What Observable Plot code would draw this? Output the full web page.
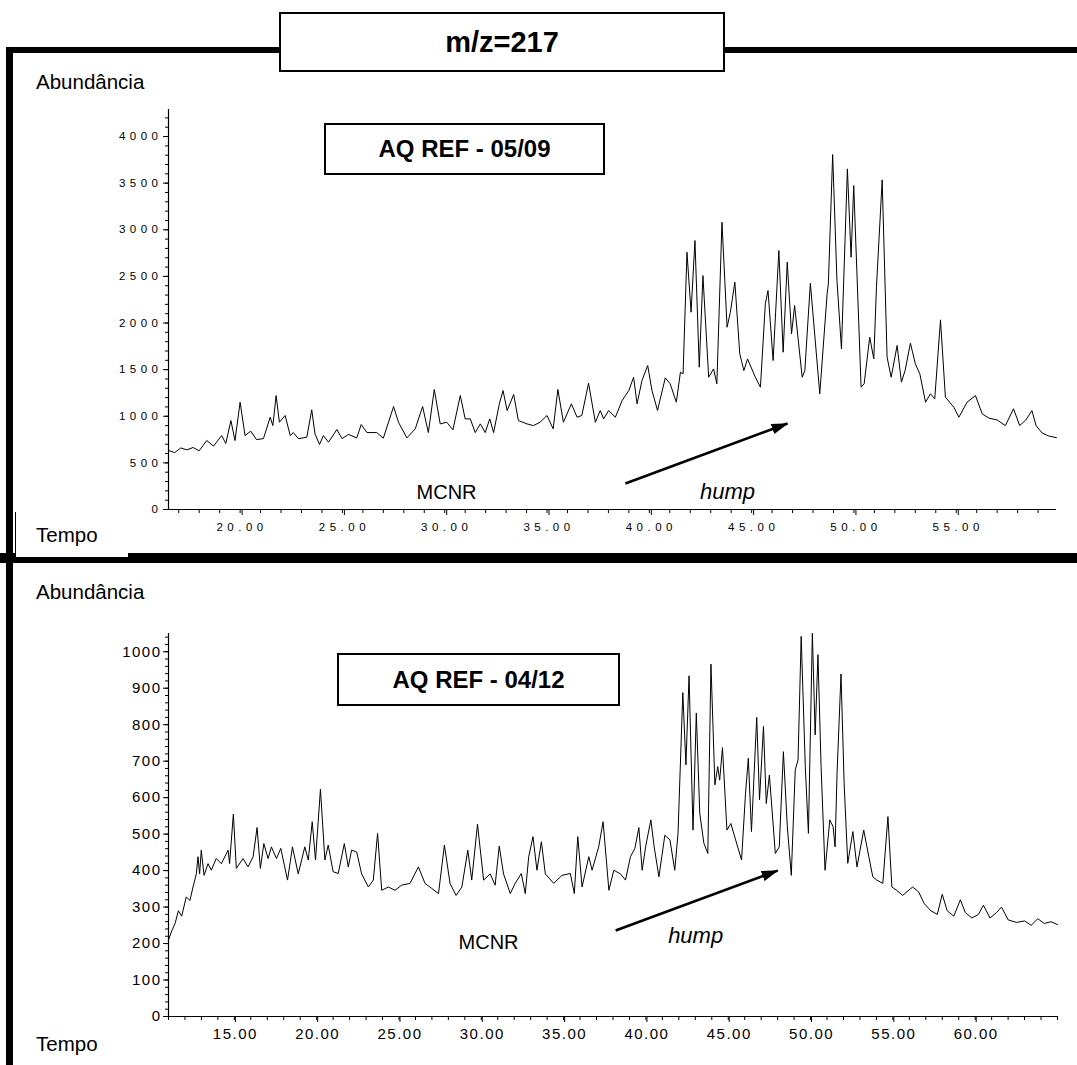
<!DOCTYPE html>
<html><head><meta charset="utf-8">
<script src="https://cdn.jsdelivr.net/npm/d3@7"></script>
<script src="https://cdn.jsdelivr.net/npm/@observablehq/plot@0.6"></script>
<style>
body{margin:0;background:#fff;font-family:Arial,"Liberation Sans",sans-serif;}
#page{position:relative;width:1077px;height:1065px;overflow:hidden;background:#fff;}
.blk{position:absolute;background:#000;}
.lbl{position:absolute;font-size:20.5px;color:#000;line-height:1;white-space:nowrap;}
.box{position:absolute;border:2px solid #000;background:#fff;font-weight:bold;display:flex;align-items:center;justify-content:center;box-sizing:border-box;color:#000;}
.plotwrap{position:absolute;left:0;}
#topChart g[aria-label="y-axis tick label"] text, #topChart g[aria-label="x-axis tick label"] text{letter-spacing:4.5px;}
#botChart g[aria-label="y-axis tick label"] text, #botChart g[aria-label="x-axis tick label"] text{letter-spacing:1.5px;}
</style></head><body><div id="page"></div>
<script>
// ---------- DATA ----------
const titleText = "m/z=217";
const topLabel = "AQ REF - 05/09";
const botLabel = "AQ REF - 04/12";
const yAxisTitle = "Abundância";
const xAxisTitle = "Tempo";

const topTime = [16.5,16.8,17.1,17.4,17.7,18.0,18.37,18.7,19.1,19.3,19.55,19.75,20.0,20.24,20.52,20.8,21.14,21.47,21.6,21.76,21.92,22.2,22.45,22.6,22.85,23.26,23.5,23.66,23.88,24.07,24.32,24.73,24.98,25.3,25.7,25.92,26.2,26.68,27.0,27.5,27.74,28.15,28.56,28.92,29.2,29.49,29.78,30.1,30.4,30.76,31.0,31.25,31.49,31.74,31.98,32.2,32.39,32.67,32.85,33.05,33.37,33.6,34.02,34.34,34.66,35.0,35.3,35.53,35.8,36.19,36.47,36.7,37.03,37.36,37.6,37.77,38.01,38.34,38.67,39.0,39.23,39.4,39.64,39.92,40.13,40.4,40.78,41.02,41.32,41.52,41.65,41.84,42.04,42.23,42.44,42.62,42.9,43.14,43.3,43.55,43.8,43.96,44.18,44.42,44.62,44.8,45.18,45.43,45.67,45.8,46.05,46.33,46.54,46.74,46.95,47.1,47.47,47.6,47.87,48.33,48.69,48.75,48.96,49.17,49.39,49.68,49.86,49.99,50.35,50.5,50.77,50.97,51.1,51.38,51.62,51.82,52.11,52.32,52.5,52.76,53.0,53.22,53.5,53.74,53.95,54.23,54.47,54.88,55.13,55.53,55.94,56.27,56.6,57.0,57.4,57.8,58.1,58.4,58.7,58.9,59.2,59.5,59.9];
const topAbund = [633,610,660,640,665,630,740,680,793,708,954,740,1151,793,840,750,760,990,900,1222,936,1008,793,825,760,775,1069,811,697,793,722,858,760,805,768,911,825,825,765,1104,936,768,865,1104,825,1287,918,936,854,1222,972,972,825,918,825,972,825,1133,1276,1061,1233,954,918,900,936,1008,865,1287,936,1133,990,1008,1355,936,1061,972,1061,990,1169,1276,1419,1133,1383,1544,1276,1062,1412,1347,1151,1473,1455,2759,2116,2885,1526,2509,1419,1508,1348,3081,1955,2116,2438,1670,1490,1615,1419,1312,2206,2349,1598,2777,1687,2652,1884,2188,1419,1490,2427,1241,2313,2420,3807,2456,1723,3653,2706,3474,1312,1348,1848,1615,2384,3535,1634,1419,1759,1366,1490,1784,1562,1455,1151,1241,1187,2034,1205,1097,990,1151,1222,1026,980,960,900,1080,900,960,1060,900,820,790,770];

const botTime = [11.0,11.2,11.4,11.6,11.8,12.08,12.3,12.49,12.69,12.79,12.89,12.99,13.16,13.4,13.6,13.9,14.21,14.62,14.71,14.94,15.12,15.53,15.83,16.14,16.38,16.58,16.79,17.05,17.25,17.56,17.82,18.23,18.53,18.88,19.28,19.49,19.73,19.93,20.23,20.5,20.7,21.0,21.31,21.68,21.92,22.12,22.43,22.73,23.14,23.44,23.7,23.95,24.35,24.76,25.16,25.67,26.18,26.58,26.99,27.4,27.76,28.1,28.47,28.82,29.18,29.42,29.77,30.14,30.54,30.84,31.09,31.35,31.76,32.06,32.43,32.67,32.88,33.14,33.38,33.65,33.89,34.4,34.9,35.41,35.65,35.86,36.12,36.53,36.73,37.13,37.4,37.75,38.05,38.45,38.76,39.06,39.33,39.57,39.77,40.0,40.3,40.5,40.79,41.15,41.46,41.75,41.95,42.24,42.43,42.62,42.86,43.06,43.27,43.52,43.76,43.95,44.19,44.36,44.48,44.65,44.92,45.16,45.45,45.81,46.05,46.22,46.41,46.73,46.9,47.14,47.31,47.5,47.86,48.1,48.35,48.59,48.83,49.07,49.24,49.43,49.68,49.87,50.11,50.28,50.45,50.64,50.88,51.17,51.37,51.49,51.61,51.85,52.04,52.26,52.57,52.82,53.23,53.54,53.78,54.02,54.39,54.7,54.94,55.23,55.59,56.2,56.56,56.9,57.3,57.7,58.0,58.3,58.7,59.1,59.4,59.8,60.2,60.5,60.9,61.3,61.6,62.0,62.5,63.0,63.4,63.8,64.2,64.6,65.0];
const botAbund = [210,235,255,290,275,328,318,355,391,438,391,456,387,419,401,433,419,456,419,555,406,433,410,438,518,406,474,433,465,433,461,374,465,391,465,429,534,429,623,429,470,397,392,474,410,456,451,391,355,374,502,346,355,346,360,365,410,365,351,337,470,365,332,355,456,374,527,374,391,360,467,391,337,365,392,337,438,493,401,479,391,365,387,392,337,493,355,438,401,465,534,346,401,391,374,438,461,518,401,470,539,465,383,497,484,401,502,888,690,934,511,832,557,475,447,966,635,685,648,737,511,529,484,429,612,708,507,820,594,795,584,662,447,465,726,520,387,676,703,1042,685,502,1051,772,992,685,401,539,520,465,667,939,639,420,507,410,511,438,383,374,365,548,355,346,332,355,342,310,290,280,335,290,275,320,285,270,280,305,270,285,300,265,258,262,250,268,255,260,252];

const topYTicks = [0,500,1000,1500,2000,2500,3000,3500,4000];
const topXTicks = [20,25,30,35,40,45,50,55];
const botYTicks = [0,100,200,300,400,500,600,700,800,900,1000];
const botXTicks = [15,20,25,30,35,40,45,50,55,60];

// annotation anchors (data coordinates)
const topNotes = [{t:30.09, v:182, text:"MCNR"}];
const topItalic = [{t:43.82, v:193, text:"hump"}];
const topArrow = [{t1:38.83, v1:279, t2:46.75, v2:922}];
const botNotes = [{t:30.44, v:203, text:"MCNR"}];
const botItalic = [{t:43.02, v:222, text:"hump"}];
const botArrow = [{t1:38.16, v1:236, t2:48.0, v2:400}];

// ---------- LAYOUT ----------
const page = document.getElementById("page");
function div(cls, css, html){const d=document.createElement("div");d.className=cls;Object.assign(d.style,css);if(html!=null)d.textContent=html;page.appendChild(d);return d;}
const FF = "Arial, 'Liberation Sans', sans-serif";

function chart(id, opts){
  const data = opts.time.map((t,i)=>({t, v: opts.abund[i]}));
  const [x0,x1] = opts.xDomain, [y0,y1] = opts.yDomain;
  const p = Plot.plot({
    width: 1077, height: opts.height,
    marginLeft: 168, marginRight: opts.marginRight, marginTop: opts.marginTop, marginBottom: opts.marginBottom,
    x: {domain: opts.xDomain, axis: null},
    y: {domain: opts.yDomain, axis: null},
    style: {background: "transparent", fontFamily: FF, color: "#000", overflow: "visible"},
    marks: [
      Plot.ruleX([x0], {y1: y0, y2: y1, stroke: "#000", strokeWidth: 1.2}),
      Plot.ruleY([y0], {x1: x0, x2: x1, stroke: "#000", strokeWidth: 1.2}),
      Plot.axisY(opts.yMinor, {tickSize: 3, text: null, stroke: "#000"}),
      Plot.axisY(opts.yTicks, {tickSize: 5, tickPadding: opts.yPad, fontSize: opts.fontSize, tickFormat: d => String(d), stroke: "#000", fill: "#000"}),
      Plot.axisX(opts.xMinor, {tickSize: 4, text: null, stroke: "#000"}),
      Plot.axisX(opts.xTicks, {tickSize: 6, tickPadding: opts.xPad, fontSize: opts.fontSize, tickFormat: d3.format(".2f"), stroke: "#000", fill: "#000", dx: opts.xdx}),
      Plot.line(data, {x: "t", y: "v", stroke: "#000", strokeWidth: 1}),
      Plot.link(opts.arrow, {x1: "t1", y1: "v1", x2: "t2", y2: "v2", stroke: "#000", strokeWidth: 2.6}),
      Plot.text(opts.notes, {x: "t", y: "v", text: "text", fontSize: opts.noteSize, fill: "#000", fontFamily: FF}),
      Plot.text(opts.italic, {x: "t", y: "v", text: "text", fontSize: opts.noteSize + 2, fontStyle: "italic", fill: "#000", fontFamily: FF})
    ]
  });
  p.id = id;
  const svg = d3.select(p);
  const mid = id + "-ah";
  svg.append("defs").append("marker").attr("id", mid).attr("viewBox", "0 0 16 10").attr("refX", 15).attr("refY", 5)
    .attr("markerWidth", 17).attr("markerHeight", 11).attr("markerUnits", "userSpaceOnUse").attr("orient", "auto")
    .append("path").attr("d", "M0,0L16,5L0,10z").attr("fill", "#000");
  svg.selectAll('g[aria-label="link"] path, g[aria-label="link"] line').attr("marker-end", `url(#${mid})`);
  const w = document.createElement("div");
  w.className = "plotwrap"; w.style.top = opts.top + "px";
  w.appendChild(p); page.appendChild(w);
  return p;
}

// frame (thick black lines)
div("blk", {left:"6px", top:"47px", width:"1071px", height:"6px"});
div("blk", {left:"6px", top:"47px", width:"7px", height:"1018px"});
div("blk", {left:"0px", top:"553px", width:"1077px", height:"10px"});

// top chart
chart("topChart", {
  time: topTime, abund: topAbund, top: 100, height: 445,
  marginTop: 9, marginBottom: 36, marginRight: 21,
  xDomain: [16.5, 59.9], yDomain: [0, 4290],
  yTicks: topYTicks, xTicks: topXTicks,
  yMinor: d3.range(0, 4290, 100), xMinor: d3.range(17, 60, 1),
  fontSize: 11.5, yPad: 1, xPad: 7, xdx: 2,
  notes: topNotes, italic: topItalic, arrow: topArrow, noteSize: 20
});
// bottom chart
chart("botChart", {
  time: botTime, abund: botAbund, top: 600, height: 460,
  marginTop: 33, marginBottom: 44, marginRight: 20,
  xDomain: [11, 65], yDomain: [0, 1050],
  yTicks: botYTicks, xTicks: botXTicks,
  yMinor: d3.range(0, 1050, 20), xMinor: d3.range(11, 65.01, 1),
  fontSize: 15, yPad: 2, xPad: 6, xdx: 1,
  notes: botNotes, italic: botItalic, arrow: botArrow, noteSize: 20
});

// title & label boxes
div("box", {left:"279px", top:"12px", width:"446px", height:"60px", fontSize:"29px"}, titleText);
div("box", {left:"324px", top:"123px", width:"281px", height:"52px", fontSize:"24px"}, topLabel);
div("box", {left:"337px", top:"653px", width:"283px", height:"53px", fontSize:"24px"}, botLabel);

// axis titles
div("lbl", {left:"36px", top:"72px"}, yAxisTitle);
div("", {position:"absolute", left:"15px", top:"512px", width:"113px", height:"46px", background:"#fff", borderLeft:"1.5px solid #000", borderBottom:"1.5px solid #000", boxSizing:"border-box"});
div("lbl", {left:"36px", top:"525px"}, xAxisTitle);
div("lbl", {left:"36px", top:"582px"}, yAxisTitle);
div("lbl", {left:"36px", top:"1034px"}, xAxisTitle);
</script>
</body></html>
